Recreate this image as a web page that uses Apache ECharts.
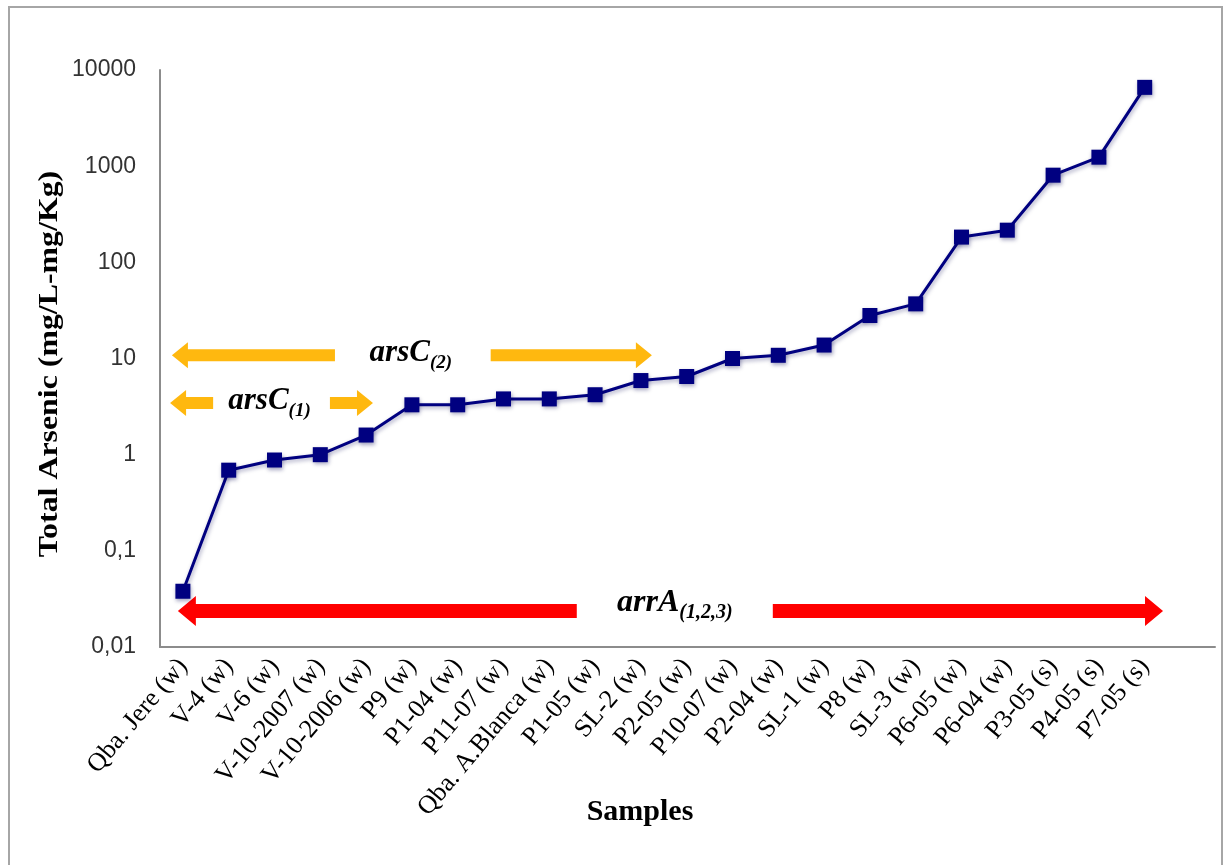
<!DOCTYPE html>
<html>
<head>
<meta charset="utf-8">
<script src="https://cdn.jsdelivr.net/npm/echarts@6/dist/echarts.min.js"></script>
<style>
  html, body { margin: 0; padding: 0; background: #fff; }
  #chart { width: 1228px; height: 865px; }
</style>
</head>
<body>
<div id="chart"></div>
<script>
// ---- data ----
const categories = [
  'Qba. Jere (w)', 'V-4 (w)', 'V-6 (w)', 'V-10-2007 (w)', 'V-10-2006 (w)', 'P9 (w)',
  'P1-04 (w)', 'P11-07 (w)', 'Qba. A.Blanca (w)', 'P1-05 (w)', 'SL-2 (w)', 'P2-05 (w)',
  'P10-07 (w)', 'P2-04 (w)', 'SL-1 (w)', 'P8 (w)', 'SL-3 (w)', 'P6-05 (w)', 'P6-04 (w)',
  'P3-05 (s)', 'P4-05 (s)', 'P7-05 (s)'
];
const totalArsenic = [
  0.038, 0.69, 0.88, 1.0, 1.6, 3.3,
  3.3, 3.8, 3.8, 4.2, 5.9, 6.5,
  10, 10.8, 13.8, 28, 37, 183, 216,
  806, 1240, 6600
];
const yTickLabels = ['0,01', '0,1', '1', '10', '100', '1000', '10000'];
const xAxisTitle = 'Samples';
const yAxisTitle = 'Total Arsenic (mg/L-mg/Kg)';

// annotation arrows: [left tip, left tail, right tail, right tip, y value] in category-index units
const arsC1 = [-0.28, 0.66, 3.21, 4.15, 3.45];
const arsC2 = [-0.24, 3.32, 6.72, 10.24, 10.8];
const arrA  = [-0.11, 8.60, 12.88, 21.40, 0.0237];
const orangeLabels = [['arsC', '(1)'], ['arsC', '(2)']];
const redLabels = [['arrA', '(1,2,3)']];

// ---- layout ----
const W = 1228, H = 865;
const plotLeft = 160, plotTop = 70, plotBottom = 647, axisRight = 1215;
const catW = 45.8;
const gridRight0 = W - (plotLeft + catW * categories.length);
const valMax = -0.5 + (axisRight - plotLeft) / catW;

function arrowRenderer(cfg, labels) {
  return function (params, api) {
    const lt = api.coord([api.value(0), api.value(4)]);
    const ltl = api.coord([api.value(1), api.value(4)]);
    const rtl = api.coord([api.value(2), api.value(4)]);
    const rt = api.coord([api.value(3), api.value(4)]);
    const y = lt[1], t = cfg.t / 2, hl = cfg.hl, hh = cfg.hh;
    const left = [
      [lt[0], y], [lt[0] + hl, y - hh], [lt[0] + hl, y - t], [ltl[0], y - t],
      [ltl[0], y + t], [lt[0] + hl, y + t], [lt[0] + hl, y + hh]
    ];
    const right = [
      [rt[0], y], [rt[0] - hl, y - hh], [rt[0] - hl, y - t], [rtl[0], y - t],
      [rtl[0], y + t], [rt[0] - hl, y + t], [rt[0] - hl, y + hh]
    ];
    const lab = labels[params.dataIndex];
    return {
      type: 'group',
      children: [
        { type: 'polygon', shape: { points: left }, style: { fill: cfg.color } },
        { type: 'polygon', shape: { points: right }, style: { fill: cfg.color } },
        {
          type: 'text',
          x: (ltl[0] + rtl[0]) / 2 + cfg.dx,
          y: y + cfg.dy,
          style: {
            text: '{b|' + lab[0] + '}{s|' + lab[1] + '}',
            align: 'center',
            verticalAlign: 'middle',
            rich: {
              b: { fontFamily: 'Liberation Serif', fontWeight: 'bold', fontStyle: 'italic',
                   fontSize: cfg.fs, fill: '#000', lineHeight: cfg.fs, verticalAlign: 'top' },
              s: { fontFamily: 'Liberation Serif', fontWeight: 'bold', fontStyle: 'italic',
                   fontSize: cfg.sfs, fill: '#000', lineHeight: cfg.fs + cfg.drop, verticalAlign: 'bottom' }
            }
          }
        }
      ]
    };
  };
}

const chart = echarts.init(document.getElementById('chart'), null, { renderer: 'canvas' });
const option = {
  backgroundColor: '#ffffff',
  animation: false,
  graphic: [
    { type: 'rect', shape: { x: 9, y: 7, width: 1213, height: 900 },
      style: { fill: 'none', stroke: '#a6a6a6', lineWidth: 2 }, silent: true, z: -10 },
    { type: 'text', x: 640, y: 812, style: { text: xAxisTitle, fontFamily: 'Liberation Serif',
      fontWeight: 'bold', fontSize: 30, fill: '#000', align: 'center', verticalAlign: 'middle' } },
    { type: 'text', x: 50, y: 364, rotation: Math.PI / 2, scaleX: 1.18,
      style: { text: yAxisTitle, fontFamily: 'Liberation Serif', fontWeight: 'bold', fontSize: 27,
               fill: '#000', align: 'center', verticalAlign: 'middle' } }
  ],
  grid: [
    { left: plotLeft, right: gridRight0, top: plotTop, bottom: H - plotBottom },
    { left: plotLeft, right: W - axisRight, top: plotTop, bottom: H - plotBottom }
  ],
  xAxis: [
    {
      type: 'category', gridIndex: 0, data: categories, boundaryGap: true,
      axisLine: { show: false }, axisTick: { show: false },
      axisLabel: { interval: 0, rotate: 50, margin: 15, fontFamily: 'Liberation Serif',
                   fontSize: 26, color: '#000' }
    },
    {
      type: 'value', gridIndex: 1, min: -0.5, max: valMax,
      axisLine: { show: true, onZero: false, lineStyle: { color: '#8c8c8c', width: 2 } },
      axisTick: { show: false }, axisLabel: { show: false }, splitLine: { show: false }
    }
  ],
  yAxis: [
    {
      type: 'log', gridIndex: 0, logBase: 10, min: 0.01, max: 10000,
      axisLine: { show: true, lineStyle: { color: '#8c8c8c', width: 2 } },
      axisTick: { show: false }, splitLine: { show: false },
      axisLabel: {
        margin: 24, fontFamily: 'Liberation Sans', fontSize: 23, color: '#333333',
        formatter: function (v) {
          const i = Math.round(Math.log10(v)) + 2;
          return yTickLabels[i] !== undefined ? yTickLabels[i] : '';
        }
      }
    },
    {
      type: 'log', gridIndex: 1, logBase: 10, min: 0.01, max: 10000, show: false
    }
  ],
  series: [
    {
      type: 'custom', xAxisIndex: 1, yAxisIndex: 1, z: 1, silent: true,
      renderItem: arrowRenderer({ color: '#FFB80F', t: 12, hl: 16, hh: 13, fs: 31, sfs: 19, drop: 4, dx: -2, dy: 0 }, orangeLabels),
      data: [arsC1, arsC2]
    },
    {
      type: 'custom', xAxisIndex: 1, yAxisIndex: 1, z: 1, silent: true,
      renderItem: arrowRenderer({ color: '#FF0000', t: 14, hl: 18, hh: 15, fs: 32, sfs: 20, drop: 4, dx: 0, dy: -6 }, redLabels),
      data: [arrA]
    },
    {
      type: 'line', xAxisIndex: 0, yAxisIndex: 0, z: 5,
      data: totalArsenic,
      symbol: 'rect', symbolSize: 15,
      lineStyle: { color: '#000080', width: 3, shadowColor: 'rgba(0,0,80,0.35)', shadowBlur: 4, shadowOffsetX: 1, shadowOffsetY: 2 },
      itemStyle: { color: '#000080', shadowColor: 'rgba(0,0,80,0.35)', shadowBlur: 4, shadowOffsetX: 1, shadowOffsetY: 2 }
    }
  ]
};
chart.setOption(option);
</script>
</body>
</html>
